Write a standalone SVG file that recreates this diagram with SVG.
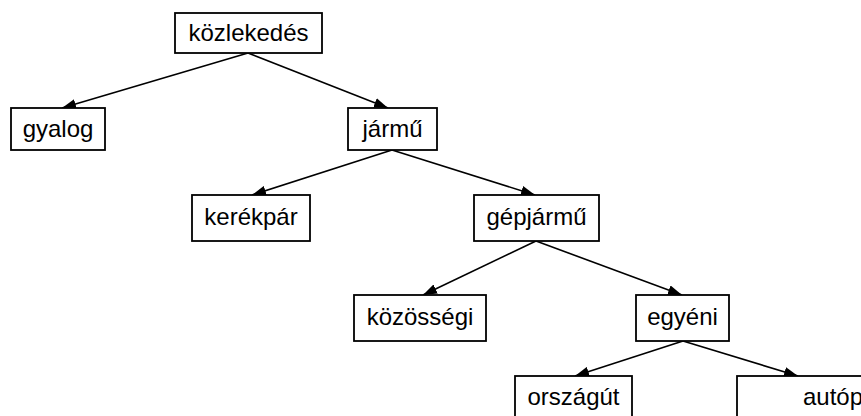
<svg xmlns="http://www.w3.org/2000/svg" width="861" height="416" viewBox="0 0 861 416">
  <style>
    .box { fill: #ffffff; stroke: #000000; stroke-width: 1.8; }
    .lbl { font-family: "Liberation Sans", Arial, sans-serif; font-size: 24px; fill: #000000; }
    .mid { text-anchor: middle; }
    .edge { stroke: #000000; stroke-width: 1.6; fill: none; marker-end: url(#arrow); }
  </style>
  <defs>
    <marker id="arrow" viewBox="0 0 14 10" refX="14" refY="5" markerWidth="14" markerHeight="10" markerUnits="userSpaceOnUse" orient="auto">
      <path d="M0,0 L14,5 L0,10 Z" fill="#000000"/>
    </marker>
  </defs>

  <rect width="861" height="416" fill="#ffffff"/>

  <g id="connectors">
    <line class="edge" x1="248" y1="53" x2="62" y2="108"/>
    <line class="edge" x1="248" y1="53" x2="388" y2="108"/>
    <line class="edge" x1="392" y1="150" x2="252" y2="195"/>
    <line class="edge" x1="392" y1="150" x2="535" y2="195"/>
    <line class="edge" x1="536" y1="241" x2="423" y2="295"/>
    <line class="edge" x1="536" y1="241" x2="682" y2="295"/>
    <line class="edge" x1="683" y1="341" x2="575" y2="376"/>
    <line class="edge" x1="683" y1="341" x2="798" y2="376"/>
  </g>

  <g id="kozlekedes">
    <rect class="box" x="175" y="13" width="147" height="40"/>
    <text class="lbl mid" x="248.5" y="41">közlekedés</text>
  </g>
  <g id="gyalog">
    <rect class="box" x="11" y="108" width="94" height="42"/>
    <text class="lbl mid" x="58" y="137">gyalog</text>
  </g>
  <g id="jarmu">
    <rect class="box" x="348" y="108" width="89" height="42"/>
    <text class="lbl mid" x="392.5" y="137">jármű</text>
  </g>
  <g id="kerekpar">
    <rect class="box" x="192" y="195" width="118" height="46"/>
    <text class="lbl mid" x="251" y="225">kerékpár</text>
  </g>
  <g id="gepjarmu">
    <rect class="box" x="474" y="195" width="125" height="46"/>
    <text class="lbl mid" x="536.5" y="225">gépjármű</text>
  </g>
  <g id="kozossegi">
    <rect class="box" x="354" y="295" width="132" height="46"/>
    <text class="lbl mid" x="420" y="325">közösségi</text>
  </g>
  <g id="egyeni">
    <rect class="box" x="636" y="295" width="93" height="46"/>
    <text class="lbl mid" x="682.5" y="325">egyéni</text>
  </g>
  <g id="orszagut">
    <rect class="box" x="515" y="376" width="117" height="50"/>
    <text class="lbl mid" x="573.5" y="405">országút</text>
  </g>
  <g id="autopalya">
    <rect class="box" x="737" y="376" width="240" height="50"/>
    <text class="lbl" x="803" y="405">autópálya</text>
  </g>
</svg>
